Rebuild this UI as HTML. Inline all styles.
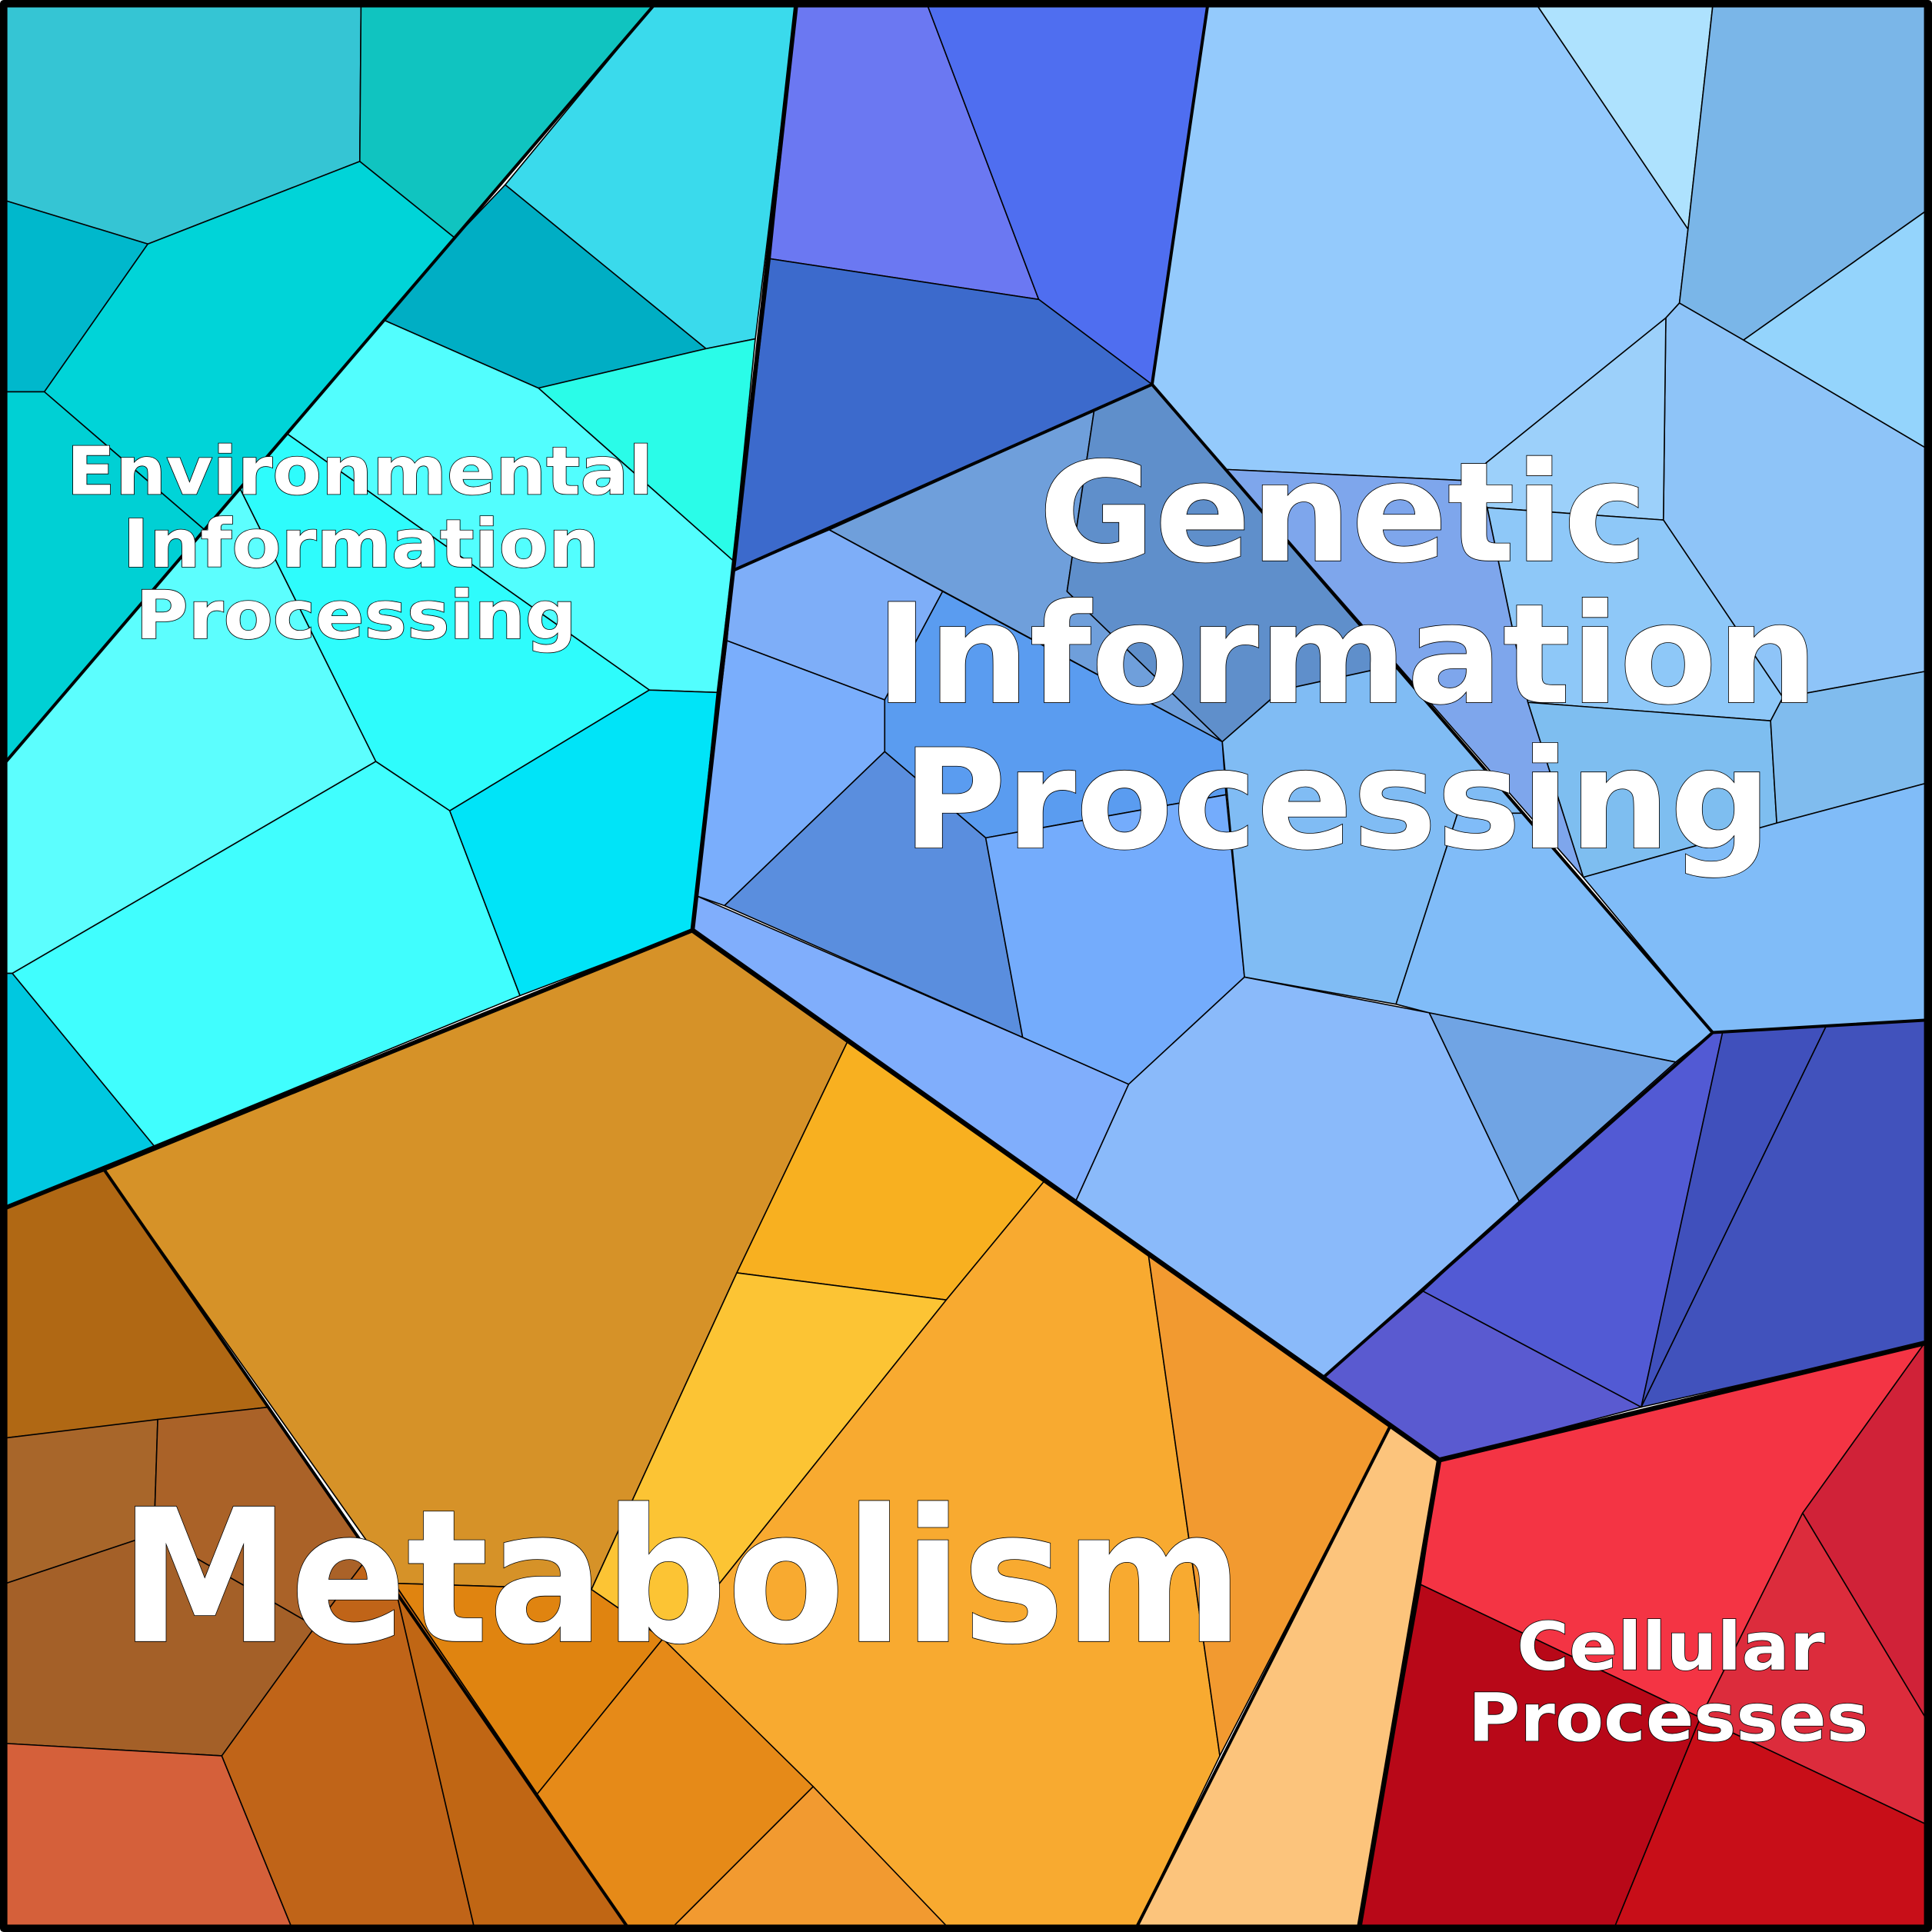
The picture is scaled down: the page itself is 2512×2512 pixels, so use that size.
<!DOCTYPE html>
<html><head><meta charset="utf-8"><style>html,body{margin:0;padding:0;background:#fff}svg{display:block}
text{font-family:"DejaVu Sans","Liberation Sans",sans-serif;font-weight:bold;fill:#fff;stroke:#000;stroke-width:1;paint-order:stroke;text-anchor:middle}</style></head>
<body>
<svg width="2512" height="2512" viewBox="0 0 1568 1568" xmlns="http://www.w3.org/2000/svg">
<g stroke="#000" stroke-width="1" stroke-linejoin="round">
<polygon fill="#35c5d4" points="5,5 293,5 292,131 120,198 5,163"/>
<polygon fill="#10c4c0" points="293,5 530,5 369,193 292,131"/>
<polygon fill="#3adaec" points="530,5 646,5 613,275 573,283 410,150"/>
<polygon fill="#00b8cc" points="5,163 120,198 36,318 5,318"/>
<polygon fill="#00d4d8" points="36,318 120,198 292,131 369,193 166,430"/>
<polygon fill="#00d0d4" points="5,318 36,318 166,430 5,618"/>
<polygon fill="#00aec4" points="369,193 410,150 573,283 437,315 312,260"/>
<polygon fill="#2afce8" points="437,315 573,283 613,275 595,455"/>
<polygon fill="#52fefe" points="312,260 437,315 595,455 582,562 527,560 233,352"/>
<polygon fill="#2efcfc" points="233,352 527,560 365,658 305,618 195,397"/>
<polygon fill="#5cfefe" points="195,397 305,618 10,790 5,790 5,618"/>
<polygon fill="#40fefe" points="305,618 365,658 422,808 125,930 10,790"/>
<polygon fill="#00e4f8" points="527,560 582,562 562,755 422,808 365,658"/>
<polygon fill="#00c8e0" points="5,790 10,790 125,930 5,980"/>
<polygon fill="#6b78f2" points="646,5 753,5 843,243 625,210"/>
<polygon fill="#4f6ef0" points="753,5 980,5 935,312 843,243"/>
<polygon fill="#3c6acc" points="625,210 843,243 935,312 595,463"/>
<polygon fill="#94cafc" points="980,5 1248,5 1370,186 1363,246 1352,258 1207,375 1190,390 995,381 935,312"/>
<polygon fill="#aee2fe" points="1248,5 1390,5 1370,186"/>
<polygon fill="#7ab6e8" points="1390,5 1562,5 1562,172 1415,276 1363,246 1370,186"/>
<polygon fill="#94d4fc" points="1415,276 1562,172 1562,363"/>
<polygon fill="#8ec4f8" points="1363,246 1415,276 1562,363 1562,545 1447,566 1350,422 1352,258"/>
<polygon fill="#9cd0fa" points="1352,258 1350,422 1207,412 1190,390 1207,375"/>
<polygon fill="#8ec8f8" points="1207,412 1350,422 1447,566 1437,585 1240,570"/>
<polygon fill="#7ebef0" points="1240,570 1437,585 1442,668 1285,712"/>
<polygon fill="#80bcee" points="1437,585 1447,566 1562,545 1562,636 1442,668"/>
<polygon fill="#80bcf8" points="1285,712 1442,668 1562,636 1562,828 1390,838"/>
<polygon fill="#7ea6ec" points="995,381 1190,390 1207,412 1240,570 1285,712"/>
<polygon fill="#6f9fdb" points="673,430 888,333 866,480 992,602"/>
<polygon fill="#5f8fcb" points="888,333 935,312 1132,540 1040,560 992,602 866,480"/>
<polygon fill="#7eaef8" points="595,463 673,430 765,480 718,568 590,520"/>
<polygon fill="#5a9cf0" points="765,480 992,602 995,645 800,680 718,610 718,568"/>
<polygon fill="#7aaefc" points="590,520 718,568 718,610 588,735 565,727"/>
<polygon fill="#5a8ede" points="588,735 718,610 800,680 830,842"/>
<polygon fill="#74acfc" points="800,680 995,645 1010,793 916,880 830,842"/>
<polygon fill="#80bcf4" points="992,602 1040,560 1132,540 1237,660 1183,660 1133,815 1010,793"/>
<polygon fill="#80bcf8" points="1183,660 1237,660 1390,838 1360,862 1160,822 1133,815"/>
<polygon fill="#80aefc" points="565,727 830,842 916,880 873,975 562,755"/>
<polygon fill="#8abafa" points="916,880 1010,793 1160,822 1233,975 1075,1117 873,975"/>
<polygon fill="#70a4e4" points="1160,822 1360,862 1233,975"/>
<polygon fill="#525ad4" points="1233,975 1360,862 1390,838 1398,838 1332,1142 1155,1048"/>
<polygon fill="#5a5ad0" points="1155,1048 1332,1142 1168,1185 1075,1117"/>
<polygon fill="#4050bc" points="1398,838 1482,833 1332,1142"/>
<polygon fill="#4152bc" points="1482,833 1562,828 1562,1090 1332,1142"/>
<polygon fill="#f43444" points="1168,1185 1562,1090 1463,1228 1380,1394 1153,1286"/>
<polygon fill="#d02238" points="1562,1090 1562,1393 1463,1228"/>
<polygon fill="#dc2c3c" points="1463,1228 1562,1393 1562,1480 1380,1394"/>
<polygon fill="#b80818" points="1153,1286 1380,1394 1310,1565 1103,1565"/>
<polygon fill="#c80e18" points="1380,1394 1562,1480 1562,1565 1310,1565"/>
<polygon fill="#d69228" points="85,950 562,755 688,845 598,1033 480,1290 322,1285"/>
<polygon fill="#f8b020" points="688,845 848,958 768,1055 598,1033"/>
<polygon fill="#fcc434" points="598,1033 768,1055 580,1290 538,1330 480,1290"/>
<polygon fill="#f8aa30" points="848,958 932,1018 990,1425 922,1565 770,1565 538,1330 580,1290 768,1055"/>
<polygon fill="#f29a30" points="932,1018 1128,1158 990,1425"/>
<polygon fill="#fcc47c" points="1128,1158 1168,1185 1103,1565 922,1565"/>
<polygon fill="#e08410" points="320,1285 480,1290 538,1330 436,1456"/>
<polygon fill="#e68a18" points="436,1456 538,1330 660,1450 545,1565 510,1565"/>
<polygon fill="#f29a30" points="545,1565 660,1450 770,1565"/>
<polygon fill="#b06814" points="5,980 85,950 218,1142 5,1167"/>
<polygon fill="#a8662a" points="5,1167 128,1152 125,1245 5,1285"/>
<polygon fill="#aa6228" points="128,1152 218,1142 300,1262 256,1320 125,1245"/>
<polygon fill="#a46028" points="5,1285 125,1245 256,1320 180,1425 5,1415"/>
<polygon fill="#d5603a" points="5,1415 180,1425 237,1565 5,1565"/>
<polygon fill="#c06418" points="180,1425 256,1320 300,1262 320,1285 385,1565 237,1565"/>
<polygon fill="#c06614" points="320,1285 436,1456 510,1565 385,1565"/>
</g>
<g fill="none" stroke="#000" stroke-linejoin="round">
<polyline stroke-width="2.5" points="530,5 5,618"/>
<polyline stroke-width="2.5" points="980,5 935,312"/>
<polyline stroke-width="2.5" points="85,950 510,1565"/>
<polyline stroke-width="2.5" points="1128,1158 922,1565"/>
<polyline stroke-width="2.5" points="1390,838 1075,1117"/>
<polyline stroke-width="2.5" points="595,463 935,312 1390,838 1562,828"/>
<polyline stroke-width="3.5" points="646,5 595,463 562,755 5,980"/>
<polyline stroke-width="4" points="562,755 1168,1185 1562,1090"/>
<polyline stroke-width="4" points="1168,1185 1103,1565"/>
<rect x="3" y="3" width="1562" height="1562" stroke-width="6"/>
</g>
<text font-size="54" x="292" y="401" textLength="476" lengthAdjust="spacingAndGlyphs">Environmental</text>
<text font-size="54" x="293" y="460" textLength="387" lengthAdjust="spacingAndGlyphs">Information</text>
<text font-size="54" x="289" y="518" textLength="358" lengthAdjust="spacingAndGlyphs">Processing</text>
<text font-size="112" x="1090" y="455" textLength="494" lengthAdjust="spacingAndGlyphs">Genetic</text>
<text font-size="112" x="1093" y="570" textLength="765" lengthAdjust="spacingAndGlyphs">Information</text>
<text font-size="112" x="1085" y="688" textLength="705" lengthAdjust="spacingAndGlyphs">Processing</text>
<text font-size="150" x="553" y="1332" textLength="912" lengthAdjust="spacingAndGlyphs">Metabolism</text>
<text font-size="54" x="1356" y="1355" textLength="250" lengthAdjust="spacingAndGlyphs">Cellular</text>
<text font-size="54" x="1354" y="1413" textLength="325" lengthAdjust="spacingAndGlyphs">Processes</text>
</svg>
</body></html>
